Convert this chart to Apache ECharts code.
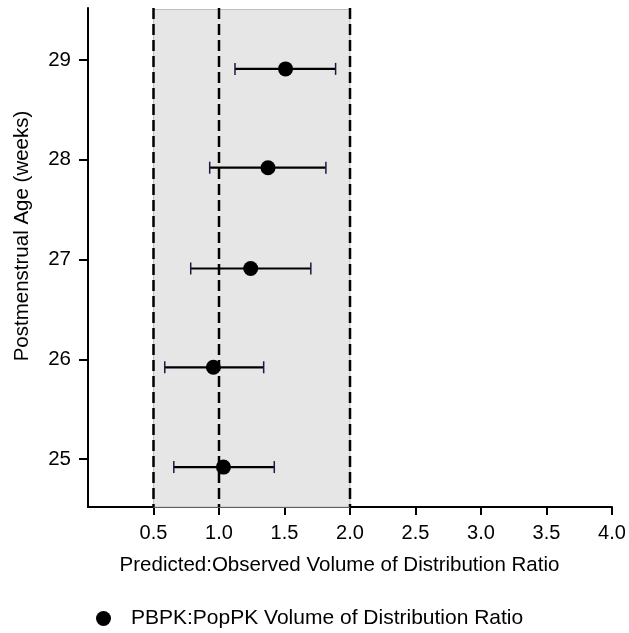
<!DOCTYPE html>
<html><head><meta charset="utf-8">
<script src="https://cdn.jsdelivr.net/npm/echarts@6/dist/echarts.min.js"></script>
<style>html,body{margin:0;padding:0;background:#fff}#c{width:629px;height:633px}</style>
</head><body><div id="c"></div>
<script>
const ages = [29, 28, 27, 26, 25];
const ageY = [28.91, 27.92, 26.91, 25.92, 24.92];
const ratio = [1.508, 1.374, 1.242, 0.957, 1.034];
const lower = [1.122, 0.929, 0.784, 0.586, 0.655];
const upper = [1.890, 1.816, 1.701, 1.341, 1.422];
const xTicks = [0.5, 1.0, 1.5, 2.0, 2.5, 3.0, 3.5, 4.0];
const yTicks = [25, 26, 27, 28, 29];
const refLines = [0.5, 1.0, 2.0];
const band = [0.5, 2.0];

const font = 'Liberation Sans, Arial, sans-serif';
const chart = echarts.init(document.getElementById('c'), null, {renderer: 'canvas'});
const pts = ratio.map((v, i) => [v, ageY[i]]);
const errs = ratio.map((v, i) => [lower[i], upper[i], ageY[i]]);
const Y0 = 24.52, Y1 = 29.52;

chart.setOption({
  animation: false,
  grid: {left: 88, right: 17, top: 8, bottom: 126},
  xAxis: {
    type: 'value', min: 0, max: 4,
    axisLine: {lineStyle: {color: '#000', width: 2}},
    axisTick: {length: 8, customValues: xTicks, lineStyle: {color: '#000', width: 2}},
    splitLine: {show: false},
    axisLabel: {color: '#000', fontSize: 20, fontFamily: font, margin: 16, customValues: xTicks,
      formatter: v => v.toFixed(1)}
  },
  yAxis: {
    type: 'value', min: Y0, max: Y1,
    axisLine: {show: true, lineStyle: {color: '#000', width: 2}},
    axisTick: {show: true, length: 9, customValues: yTicks, lineStyle: {color: '#000', width: 2}},
    splitLine: {show: false},
    axisLabel: {color: '#000', fontSize: 20.5, fontFamily: font, margin: 17, customValues: yTicks,
      formatter: v => String(v)}
  },
  legend: {
    left: 91, top: 603, itemWidth: 45, itemHeight: 15, itemGap: 10,
    textStyle: {color: '#000', fontSize: 21, fontFamily: font},
    data: [{name: 'PBPK:PopPK Volume of Distribution Ratio', icon: 'circle'}]
  },
  graphic: [
    {type: 'text', x: 339.5, y: 565, style: {text: 'Predicted:Observed Volume of Distribution Ratio', fill: '#000', font: '20.5px ' + font, align: 'center', verticalAlign: 'middle'}},
    {type: 'text', x: 22, y: 236, rotation: Math.PI / 2, style: {text: 'Postmenstrual Age (weeks)', fill: '#000', font: '20.5px ' + font, align: 'center', verticalAlign: 'middle'}}
  ],
  series: [
    {
      type: 'custom', name: 'band', silent: true, z: 1,
      data: [[band[0], band[1]]],
      renderItem: (params, api) => {
        const a = api.coord([api.value(0), Y1]);
        const b = api.coord([api.value(1), Y0]);
        return {type: 'rect', shape: {x: a[0], y: a[1] + 1.5, width: b[0] - a[0], height: b[1] - a[1] - 1.5},
          style: {fill: '#e6e6e6', stroke: '#bdbdbd', lineWidth: 1}};
      }
    },
    {
      type: 'custom', name: 'ref', silent: true, z: 4,
      data: refLines.map(r => [r]),
      renderItem: (params, api) => {
        const a = api.coord([api.value(0), Y1]);
        const b = api.coord([api.value(0), Y0]);
        return {type: 'line', shape: {x1: a[0], y1: a[1], x2: b[0], y2: b[1]},
          style: {stroke: '#000', lineWidth: 2.5, lineDash: [11, 5]}};
      }
    },
    {
      type: 'custom', name: 'err', silent: true, z: 5,
      data: errs,
      renderItem: (params, api) => {
        const l = api.coord([api.value(0), api.value(2)]);
        const r = api.coord([api.value(1), api.value(2)]);
        return {type: 'group', children: [
          {type: 'line', shape: {x1: l[0], y1: l[1], x2: r[0], y2: r[1]}, style: {stroke: '#000', lineWidth: 2.2}},
          {type: 'line', shape: {x1: l[0], y1: l[1] - 6, x2: l[0], y2: l[1] + 6}, style: {stroke: '#1a1a40', lineWidth: 1.5}},
          {type: 'line', shape: {x1: r[0], y1: r[1] - 6, x2: r[0], y2: r[1] + 6}, style: {stroke: '#1a1a40', lineWidth: 1.5}}
        ]};
      }
    },
    {
      type: 'scatter', name: 'PBPK:PopPK Volume of Distribution Ratio', z: 6,
      symbol: 'circle', symbolSize: 15,
      itemStyle: {color: '#000', opacity: 1},
      data: pts
    }
  ]
});
</script></body></html>
